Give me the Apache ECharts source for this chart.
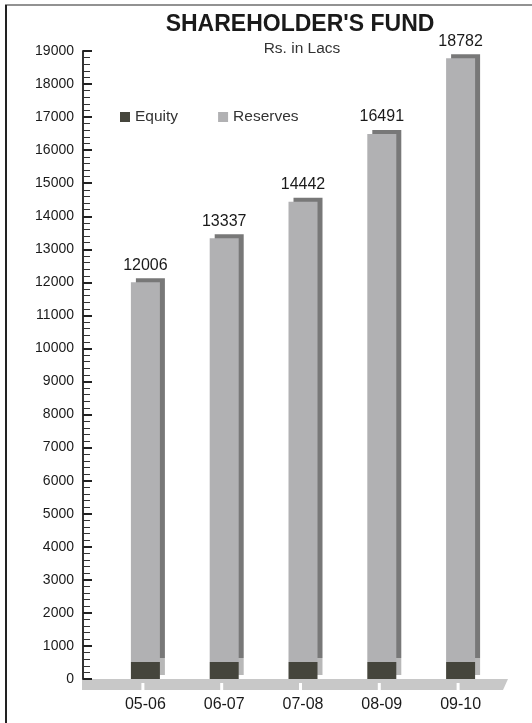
<!DOCTYPE html>
<html>
<head>
<meta charset="utf-8">
<script src="https://cdn.jsdelivr.net/npm/echarts@6/dist/echarts.min.js"></script>
<style>
html,body{margin:0;padding:0;background:#fff;}
#chart{width:532px;height:723px;}
</style>
</head>
<body>
<div id="chart"></div>
<script>
var categories = ['05-06', '06-07', '07-08', '08-09', '09-10'];
var totals = [12006, 13337, 14442, 16491, 18782];
var equity = [515, 515, 515, 515, 515];
var reserves = [11491, 12822, 13927, 15976, 18267];
var yTicks = { min: 0, max: 19000, interval: 1000 };

var FONT = 'Liberation Sans, Arial, Helvetica, sans-serif';
var chart = echarts.init(document.getElementById('chart'), null, { renderer: 'canvas' });

var GL = 106, GR = 32, OFF = 23;
var option = {
  backgroundColor: '#ffffff',
  animation: false,
  title: [
    { text: "SHAREHOLDER'S FUND", left: 295, top: 8, textAlign: 'center',
      textStyle: { fontFamily: FONT, fontSize: 23, fontWeight: 'bold', color: '#1a1a1a' } },
    { text: 'Rs. in Lacs', left: 297, top: 36, textAlign: 'center',
      textStyle: { fontFamily: FONT, fontSize: 15.5, fontWeight: 'normal', color: '#333' } }
  ],
  legend: {
    left: 115, top: 104, itemWidth: 10, itemHeight: 10, itemGap: 40,
    icon: 'rect',
    textStyle: { fontFamily: FONT, fontSize: 15.5, color: '#333' },
    data: ['Equity', 'Reserves']
  },
  grid: { left: GL, right: GR, top: 51, bottom: 44, containLabel: false },
  xAxis: {
    type: 'category',
    data: categories,
    axisLine: { show: false },
    axisTick: { show: false },
    axisLabel: { margin: 18, fontFamily: FONT, fontSize: 16, color: '#1a1a1a' }
  },
  yAxis: {
    type: 'value',
    min: yTicks.min, max: yTicks.max, interval: yTicks.interval,
    offset: OFF,
    axisLine: { show: true, lineStyle: { color: '#333', width: 2 } },
    axisTick: { show: true, inside: true, length: 9, lineStyle: { color: '#222', width: 2 } },
    minorTick: { show: true, splitNumber: 5, length: 7, lineStyle: { color: '#333', width: 1 } },
    splitLine: { show: false },
    axisLabel: { margin: 9, fontFamily: FONT, fontSize: 14, color: '#1a1a1a',
      formatter: function (v) { return String(v); } }
  },
  series: [
    {
      name: 'Equity', type: 'bar', stack: 'fund', barWidth: 29, z: 3,
      data: equity,
      itemStyle: { color: '#45453c', shadowColor: '#b8b8b8', shadowOffsetX: 5, shadowOffsetY: -4, shadowBlur: 0 }
    },
    {
      name: 'Reserves', type: 'bar', stack: 'fund', barWidth: 29, z: 3,
      data: reserves,
      itemStyle: { color: '#b1b1b3', shadowColor: '#787878', shadowOffsetX: 5, shadowOffsetY: -4, shadowBlur: 0 },
      label: {
        show: true, position: 'top', distance: 9,
        fontFamily: FONT, fontSize: 16, color: '#1a1a1a',
        formatter: function (p) { return String(totals[p.dataIndex]); }
      }
    }
  ]
};
chart.setOption(option);

// decorative floor, frame and tick gaps computed from the axes
var p0 = chart.convertToPixel({ gridIndex: 0 }, [0, 0]);
var y0 = p0[1];
var axisX = GL - OFF - 1;
var gridRight = 532 - GR;
var gfx = [
  { type: 'polygon', z: -1, shape: { points: [[axisX, y0], [gridRight + 8, y0], [gridRight + 3, y0 + 11], [axisX, y0 + 11]] },
    style: { fill: '#c8c8c8' } }
];
categories.forEach(function (c, i) {
  var px = chart.convertToPixel({ xAxisIndex: 0 }, c);
  gfx.push({ type: 'rect', z: 0, shape: { x: px - 4, y: y0 + 4, width: 3, height: 8 }, style: { fill: '#ffffff' } });
});
gfx.push({ type: 'line', z: 5, shape: { x1: 5, y1: 5, x2: 532, y2: 5 }, style: { stroke: '#6e6e6e', lineWidth: 1.5 } });
gfx.push({ type: 'line', z: 5, shape: { x1: 6, y1: 5, x2: 6, y2: 723 }, style: { stroke: '#222', lineWidth: 2 } });
chart.setOption({ graphic: gfx });
</script>
</body>
</html>
